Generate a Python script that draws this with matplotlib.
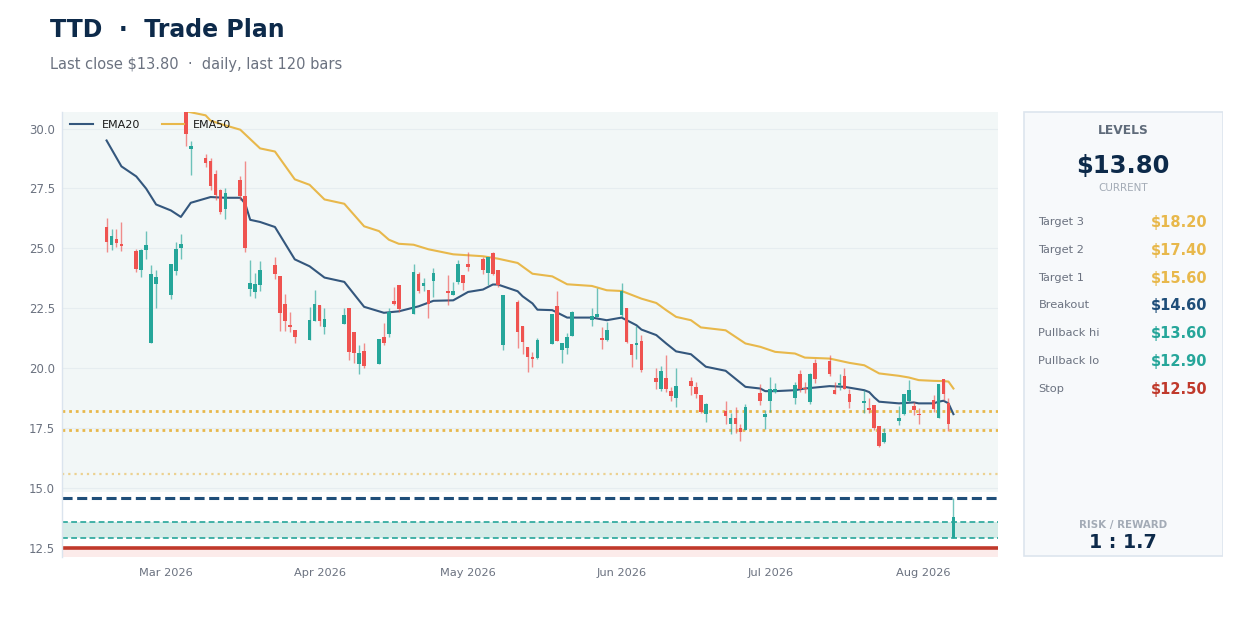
import numpy as np
import pandas as pd
import matplotlib
matplotlib.use("Agg")
import matplotlib.pyplot as plt
import matplotlib.dates as mdates
from matplotlib.patches import Rectangle

# ---------------- data ----------------
start_date = "2026-02-17"
end_date = "2026-08-07"
holidays = ["2026-04-03", "2026-05-25", "2026-06-19", "2026-07-03"]

opens = [25.89, 25.13, 25.37, 25.17, 24.89, 24.08, 24.92, 21.07, 23.50, 23.07,
         24.06, 25.01, 30.90, 29.14, 28.78, 28.64, 28.11, 27.42, 26.65, 27.86,
         27.17, 23.32, 23.18, 23.49, 24.32, 23.83, 22.69, 21.79, 21.58, 21.19,
         21.97, 22.63, 21.72, 21.86, 22.51, 21.51, 20.17, 20.71, 20.17, 21.31,
         21.42, 22.79, 23.46, 22.28, 23.94, 23.43, 23.25, 23.64, 23.22, 23.04,
         23.60, 23.88, 24.33, 24.57, 23.97, 24.82, 24.08, 20.96, 22.76, 21.76,
         20.89, 20.47, 20.44, 21.00, 22.58, 20.75, 20.86, 21.35, 22.00, 22.14,
         21.25, 21.19, 22.21, 22.53, 21.00, 20.96, 21.12, 19.57, 19.15, 19.57,
         19.06, 18.74, 19.46, 19.22, 18.90, 18.08, 18.21, 17.69, 17.94, 17.49,
         17.42, 18.97, 17.97, 18.62, 19.00, 18.74, 19.75, 19.19, 18.60, 20.22,
         20.31, 19.08, 19.29, 19.67, 18.92, 18.56, 18.32, 18.46, 17.58, 16.93,
         17.81, 18.08, 18.64, 18.42, 18.08, 18.67, 17.94, 19.53, 18.56, 12.90]
highs = [26.28, 25.82, 25.82, 26.10, 24.99, 24.99, 25.71, 24.32, 24.08, 24.33,
         25.26, 25.58, 31.00, 29.47, 28.94, 28.78, 28.25, 27.49, 27.53, 28.00,
         28.65, 24.50, 23.97, 24.47, 24.64, 23.83, 23.11, 22.35, 21.58, 22.56,
         23.28, 22.63, 22.51, 22.53, 22.51, 21.51, 20.96, 21.03, 21.21, 21.90,
         22.53, 23.39, 23.46, 24.33, 24.01, 23.78, 23.25, 24.18, 23.88, 23.60,
         24.53, 23.88, 24.85, 24.64, 24.64, 24.85, 24.08, 23.07, 22.83, 21.76,
         20.89, 20.68, 21.24, 22.28, 23.22, 21.03, 21.47, 22.39, 22.53, 23.36,
         21.72, 21.93, 23.56, 22.53, 21.00, 21.75, 21.38, 19.99, 20.08, 20.54,
         19.22, 19.99, 19.64, 19.43, 18.90, 18.53, 18.64, 18.11, 18.39, 17.69,
         18.50, 19.33, 18.25, 19.64, 19.40, 19.43, 19.94, 19.43, 19.81, 20.40,
         20.54, 19.43, 19.74, 19.99, 19.15, 19.08, 18.74, 18.46, 17.58, 17.49,
         18.42, 18.92, 19.50, 18.60, 18.32, 18.88, 19.33, 19.53, 18.74, 14.60]
lows = [24.85, 24.94, 25.06, 24.89, 24.01, 23.81, 24.54, 21.07, 22.49, 22.88,
        23.88, 24.57, 29.26, 28.04, 28.39, 27.42, 27.00, 26.44, 26.21, 27.00,
        24.85, 23.00, 22.94, 23.21, 23.71, 21.56, 21.56, 21.51, 21.03, 21.19,
        21.97, 21.75, 21.44, 21.86, 20.36, 20.22, 19.75, 19.99, 20.17, 20.96,
        21.28, 22.63, 22.35, 22.25, 23.15, 23.21, 22.11, 22.97, 22.63, 23.04,
        23.50, 23.25, 24.06, 23.92, 23.46, 23.88, 23.39, 20.75, 20.82, 20.61,
        19.85, 20.06, 20.40, 21.00, 21.14, 20.22, 20.61, 21.35, 21.75, 22.14,
        20.79, 21.14, 22.14, 21.03, 20.06, 20.40, 19.85, 19.11, 19.06, 19.01,
        18.64, 18.36, 18.88, 18.74, 18.14, 17.76, 17.67, 17.24, 17.31, 16.97,
        17.42, 18.46, 17.46, 18.18, 18.95, 18.50, 19.00, 18.97, 18.50, 19.36,
        19.68, 18.94, 19.08, 19.11, 18.35, 18.11, 18.14, 17.42, 16.69, 16.86,
        17.63, 18.04, 18.60, 18.04, 17.69, 18.18, 17.90, 18.69, 17.39, 12.90]
closes = [25.26, 25.50, 25.22, 25.08, 24.15, 24.92, 25.15, 23.94, 23.81, 24.33,
          24.99, 25.19, 29.78, 29.26, 28.57, 27.62, 27.21, 26.51, 27.32, 27.17,
          25.03, 23.56, 23.53, 24.11, 23.94, 22.32, 21.96, 21.72, 21.28, 22.03,
          22.69, 21.97, 22.04, 22.21, 20.68, 20.64, 20.64, 20.10, 21.21, 21.03,
          22.35, 22.69, 22.46, 24.01, 23.21, 23.56, 22.67, 23.97, 23.14, 23.22,
          24.36, 23.57, 24.22, 24.08, 24.64, 23.94, 23.49, 23.07, 21.49, 21.10,
          20.47, 20.40, 21.17, 22.28, 21.14, 21.03, 21.28, 22.35, 22.17, 22.28,
          21.17, 21.58, 23.22, 21.10, 20.54, 21.03, 19.94, 19.43, 19.89, 19.15,
          18.85, 19.25, 19.26, 18.94, 18.18, 18.50, 18.01, 17.90, 17.67, 17.32,
          18.36, 18.64, 18.08, 19.15, 19.15, 19.29, 19.15, 19.11, 19.75, 19.53,
          19.75, 18.94, 19.36, 19.11, 18.60, 18.63, 18.25, 17.49, 16.75, 17.28,
          17.90, 18.92, 19.08, 18.25, 18.03, 18.28, 19.33, 18.94, 17.67, 13.80]

ema20_dates = ["2026-02-17", "2026-02-20", "2026-02-23", "2026-02-25", "2026-02-27",
               "2026-03-02", "2026-03-04", "2026-03-06", "2026-03-10", "2026-03-13",
               "2026-03-16", "2026-03-17", "2026-03-18", "2026-03-20", "2026-03-23",
               "2026-03-27", "2026-03-30", "2026-04-02", "2026-04-06", "2026-04-10",
               "2026-04-14", "2026-04-17", "2026-04-21", "2026-04-24", "2026-04-28",
               "2026-05-01", "2026-05-04", "2026-05-06", "2026-05-07", "2026-05-11",
               "2026-05-12", "2026-05-14", "2026-05-15", "2026-05-18", "2026-05-21",
               "2026-05-26", "2026-05-29", "2026-06-01", "2026-06-04", "2026-06-05",
               "2026-06-08", "2026-06-10", "2026-06-12", "2026-06-15", "2026-06-18",
               "2026-06-22", "2026-06-26", "2026-06-29", "2026-06-30", "2026-07-02",
               "2026-07-06", "2026-07-08", "2026-07-13", "2026-07-16", "2026-07-20",
               "2026-07-21", "2026-07-22", "2026-07-23", "2026-07-27", "2026-07-30",
               "2026-07-31", "2026-08-03", "2026-08-04", "2026-08-05", "2026-08-06",
               "2026-08-07"]
ema20_vals = [29.50, 28.42, 28.00, 27.49, 26.83,
              26.58, 26.31, 26.90, 27.14, 27.11,
              27.11, 26.86, 26.19, 26.10, 25.89,
              24.54, 24.25, 23.78, 23.60, 22.56,
              22.31, 22.37, 22.58, 22.81, 22.83,
              23.18, 23.28, 23.49, 23.49, 23.21,
              23.00, 22.70, 22.44, 22.42, 22.11,
              22.11, 22.00, 22.11, 21.79, 21.61,
              21.38, 21.03, 20.70, 20.58, 20.06,
              19.89, 19.22, 19.15, 19.04, 19.04,
              19.08, 19.15, 19.25, 19.22, 19.08,
              19.00, 18.78, 18.60, 18.53, 18.57,
              18.53, 18.53, 18.60, 18.64, 18.53,
              18.08]

ema50_dates = ["2026-02-17", "2026-03-02", "2026-03-05", "2026-03-09", "2026-03-10",
               "2026-03-12", "2026-03-16", "2026-03-20", "2026-03-23", "2026-03-27",
               "2026-03-30", "2026-04-02", "2026-04-06", "2026-04-10", "2026-04-13",
               "2026-04-15", "2026-04-17", "2026-04-20", "2026-04-23", "2026-04-28",
               "2026-05-01", "2026-05-04", "2026-05-07", "2026-05-11", "2026-05-14",
               "2026-05-18", "2026-05-21", "2026-05-26", "2026-05-29", "2026-06-01",
               "2026-06-05", "2026-06-08", "2026-06-10", "2026-06-12", "2026-06-15",
               "2026-06-17", "2026-06-22", "2026-06-26", "2026-06-29", "2026-07-02",
               "2026-07-06", "2026-07-08", "2026-07-13", "2026-07-17", "2026-07-20",
               "2026-07-23", "2026-07-27", "2026-07-29", "2026-07-31", "2026-08-03",
               "2026-08-05", "2026-08-06", "2026-08-07"]
ema50_vals = [32.30, 31.30, 30.72, 30.55, 30.33,
              30.19, 29.95, 29.17, 29.04, 27.88,
              27.65, 27.04, 26.86, 25.92, 25.72,
              25.36, 25.19, 25.15, 24.96, 24.75,
              24.71, 24.67, 24.57, 24.39, 23.94,
              23.83, 23.50, 23.43, 23.25, 23.22,
              22.90, 22.72, 22.42, 22.14, 22.00,
              21.70, 21.58, 21.03, 20.89, 20.68,
              20.61, 20.44, 20.40, 20.22, 20.12,
              19.78, 19.68, 19.61, 19.50, 19.47,
              19.46, 19.44, 19.15]

level_names = ["Target 3", "Target 2", "Target 1", "Breakout", "Pullback hi", "Pullback lo", "Stop"]
level_values = [18.20, 17.40, 15.60, 14.60, 13.60, 12.90, 12.50]
last_close = 13.80
risk_reward = "1 : 1.7"

title_text = "TTD  \u00b7  Trade Plan"
subtitle_text = "Last close $13.80  \u00b7  daily, last 120 bars"

# ---------------- style ----------------
C_UP = "#26a69a"
C_DN = "#ef5350"
C_GOLD = "#e8b84b"
C_NAVY = "#1f4e79"
C_TEAL = "#26a69a"
C_RED = "#c0392b"
C_TITLE = "#0d2a4a"
C_GRAY = "#6b7280"
level_colors = [C_GOLD, C_GOLD, C_GOLD, C_NAVY, C_TEAL, C_TEAL, C_RED]

W, H = 1248, 619
fig = plt.figure(figsize=(W / 100, H / 100), dpi=100)
fig.patch.set_facecolor("white")

ax = fig.add_axes([62 / W, 1 - 556.5 / H, 936 / W, 445 / H])
ax.set_facecolor("white")

dates = pd.bdate_range(start_date, end_date, freq="C", holidays=holidays)
x = mdates.date2num(dates.to_pydatetime())
o = np.array(opens); h = np.array(highs); l = np.array(lows); c = np.array(closes)
up = c >= o

ylo, yhi = 12.14, 30.71
ax.set_ylim(ylo, yhi)
ax.set_xlim(mdates.date2num(pd.Timestamp("2026-02-08")), mdates.date2num(pd.Timestamp("2026-08-16")))

# background zones
ax.axhspan(14.85, yhi + 1, color="#f2f7f7", zorder=0, lw=0)
ax.axhspan(ylo - 1, level_values[6], color="#fcebea", zorder=0, lw=0)
ax.axhspan(level_values[5], level_values[4], color="#d6ece8", zorder=0.5, lw=0)

# grid
for yv in np.arange(12.5, 30.01, 2.5):
    ax.axhline(yv, color="#e6edf0", lw=0.8, zorder=0.6)

# level lines
ax.axhline(level_values[0], color=C_GOLD, lw=2.0, ls=(0, (1, 1.4)), zorder=1)
ax.axhline(level_values[1], color=C_GOLD, lw=2.0, ls=(0, (1, 1.4)), zorder=1)
ax.axhline(level_values[2], color=C_GOLD, lw=1.6, ls=(0, (1, 1.8)), alpha=0.6, zorder=1)
ax.axhline(level_values[3], color=C_NAVY, lw=2.2, ls=(0, (3.3, 1.5)), zorder=1)
ax.axhline(level_values[4], color=C_TEAL, lw=1.2, ls=(0, (3.5, 2)), zorder=1)
ax.axhline(level_values[5], color=C_TEAL, lw=1.2, ls=(0, (3.5, 2)), zorder=1)
ax.axhline(level_values[6], color=C_RED, lw=2.6, zorder=1)

# EMA lines
e20x = mdates.date2num(pd.to_datetime(ema20_dates).to_pydatetime())
e50x = mdates.date2num(pd.to_datetime(ema50_dates).to_pydatetime())
ax.plot(e20x, ema20_vals, color="#34577d", lw=1.5, zorder=2, label="EMA20")
ax.plot(e50x, ema50_vals, color=C_GOLD, lw=1.5, zorder=2, label="EMA50")

# candles
cols = np.where(up, C_UP, C_DN)
ax.vlines(x, l, h, colors=cols, lw=1.0, alpha=0.65, zorder=3)
body_lo = np.minimum(o, c)
body_h = np.maximum(np.abs(c - o), 0.06)
ax.bar(x, body_h, bottom=body_lo, width=0.75, color=cols, lw=0, zorder=4)

# axes styling
for s in ["top", "right", "bottom"]:
    ax.spines[s].set_visible(False)
ax.spines["left"].set_color("#dbe4ee")
ax.spines["left"].set_linewidth(1.0)
ax.set_yticks(np.arange(12.5, 30.01, 2.5))
ax.yaxis.set_major_formatter(matplotlib.ticker.FormatStrFormatter("%.1f"))
ax.xaxis.set_major_locator(mdates.MonthLocator())
ax.xaxis.set_major_formatter(mdates.DateFormatter("%b %Y"))
ax.tick_params(axis="both", length=0, labelsize=8.5, colors=C_GRAY, pad=5)
ax.tick_params(axis="x", labelsize=8.2, pad=8)

leg = ax.legend(loc="upper left", ncol=2, frameon=False, fontsize=8,
                handlelength=2.0, handletextpad=0.8, columnspacing=2.0,
                borderaxespad=0.35, bbox_to_anchor=(0.0, 1.0))
leg.set_zorder(10)
for t in leg.get_texts():
    t.set_color("#1a1a1a")

# titles
fig.text(50 / W, 1 - 30 / H, title_text, fontsize=17, fontweight="bold",
         color=C_TITLE, ha="left", va="center")
fig.text(50 / W, 1 - 64 / H, subtitle_text, fontsize=10.5, color=C_GRAY,
         ha="left", va="center")

# side panel
px0, py0, pw, ph = 1023, 111, 200, 445.5
pax = fig.add_axes([px0 / W, 1 - (py0 + ph) / H, pw / W, ph / H])
pax.set_xlim(0, pw)
pax.set_ylim(ph, 0)
pax.axis("off")
pax.add_patch(Rectangle((0.5, 0.5), pw - 1, ph - 1, facecolor="#f7f9fb",
                        edgecolor="#dde5ee", lw=1.2))
pax.text(pw / 2, 131 - py0, "LEVELS", ha="center", va="center", fontsize=8.8,
         fontweight="bold", color="#5f6b7a")
pax.text(pw / 2, 166 - py0, f"${last_close:.2f}", ha="center", va="center",
         fontsize=17.5, fontweight="bold", color=C_TITLE)
pax.text(pw / 2, 188 - py0, "CURRENT", ha="center", va="center", fontsize=7.5,
         color="#a3abb6")
row_y = [222, 250, 278, 305.5, 333.5, 361.5, 389.5]
for name, val, col, ry in zip(level_names, level_values, level_colors, row_y):
    pax.text(1038.5 - px0, ry - py0, name, ha="left", va="center", fontsize=8.2,
             color=C_GRAY)
    pax.text(1207.5 - px0, ry - py0, f"${val:.2f}", ha="right", va="center",
             fontsize=10.5, fontweight="bold", color=col)
pax.text(pw / 2, 525 - py0, "RISK / REWARD", ha="center", va="center",
         fontsize=7.4, fontweight="bold", color="#a3abb6")
pax.text(pw / 2, 542 - py0, risk_reward, ha="center", va="center",
         fontsize=13.7, fontweight="bold", color=C_TITLE)

fig.savefig("out.png", dpi=100, facecolor="white")
